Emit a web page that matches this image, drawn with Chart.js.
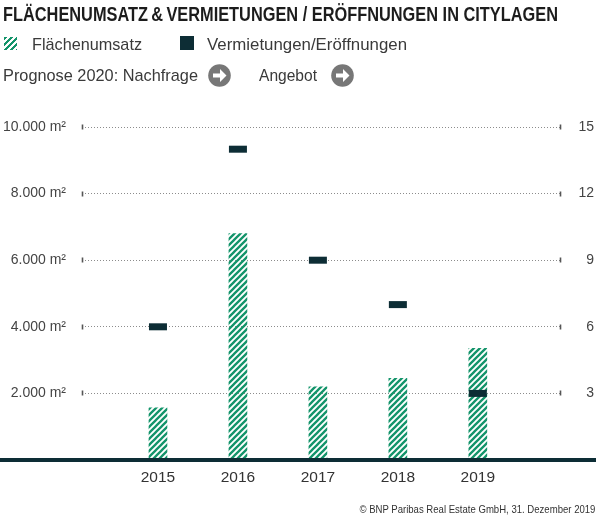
<!DOCTYPE html>
<html><head><meta charset="utf-8">
<script src="https://cdn.jsdelivr.net/npm/chart.js@4"></script>
<style>
html,body{margin:0;padding:0;background:#fff;}
#wrap{position:relative;width:600px;height:518px;overflow:hidden;font-family:"Liberation Sans",Arial,sans-serif;color:#3a3a3a;}
#c{position:absolute;left:0;top:0;}
.t{position:absolute;white-space:nowrap;line-height:1;transform-origin:0 0;}
.lg{font-size:17px;}
</style></head><body>
<div id="wrap">
<canvas id="c" width="600" height="518"></canvas>
<div class="t fit" data-w="555" id="title" style="left:3px;top:4.5px;font-size:19.5px;font-weight:bold;color:#1c1c1c;">FLÄCHENUMSATZ&thinsp;&amp;&thinsp;VERMIETUNGEN / ERÖFFNUNGEN IN CITYLAGEN</div>
<div id="hatchIcon" style="position:absolute;left:4px;top:37px;width:13px;height:13px;background:repeating-linear-gradient(135deg,#13946a 0 2.2px,#fff 2.2px 4.3px);"></div>
<div class="t lg fit" data-w="110" id="lg1" style="left:32px;top:35.5px;"></div>
<div style="position:absolute;left:180px;top:36px;width:14px;height:14px;background:#0d2d35;"></div>
<div class="t lg fit" data-w="200" id="lg2" style="left:207px;top:35.5px;"></div>
<div class="t lg fit" data-w="195" id="lg3" style="left:3px;top:66.5px;"></div>
<svg style="position:absolute;left:208px;top:64px;" width="23" height="23" viewBox="-11.5 -11.5 23 23"><circle r="11.3" fill="#777"/><path d="M-6.5,-2 H0.5 V-6.5 L7,0 L0.5,6.5 V2 H-6.5 Z" fill="#fff"/></svg>
<div class="t lg fit" data-w="58" id="lg4" style="left:259px;top:66.5px;"></div>
<svg style="position:absolute;left:331px;top:64px;" width="23" height="23" viewBox="-11.5 -11.5 23 23"><circle r="11.3" fill="#777"/><path d="M-6.5,-2 H0.5 V-6.5 L7,0 L0.5,6.5 V2 H-6.5 Z" fill="#fff"/></svg>
<div class="t fit" data-w="236" data-right="1" id="foot" style="right:5px;top:504px;font-size:11px;color:#333;">© BNP Paribas Real Estate GmbH, 31. Dezember 2019</div>
</div>
<script>
// ---- data ----
const years = [2015, 2016, 2017, 2018, 2019];
const flaechenumsatz = [1570, 6800, 2200, 2450, 3350];
const vermietungen = [6, 14, 9, 7, 3];
const seriesNames = ['Flächenumsatz', 'Vermietungen/Eröffnungen'];
const prognoseLabels = ['Prognose 2020: Nachfrage', 'Angebot'];
const leftTickMax = 10000, leftTickStep = 2000;
const rightTickMax = 15, rightTickStep = 3;

document.getElementById('lg1').textContent = seriesNames[0];
document.getElementById('lg2').textContent = seriesNames[1];
document.getElementById('lg3').textContent = prognoseLabels[0];
document.getElementById('lg4').textContent = prognoseLabels[1];

// condense text to the reference widths
document.querySelectorAll('.fit').forEach(el => {
  const w = el.getBoundingClientRect().width;
  const k = parseFloat(el.dataset.w) / w;
  if (el.dataset.right) el.style.transformOrigin = '100% 0';
  el.style.transform = 'scaleX(' + k.toFixed(4) + ')';
});

const GREEN = '#13946a';
const DARK = '#0d2d35';

function makeHatch(color){
  const s = 6, c = document.createElement('canvas');
  c.width = s; c.height = s;
  const g = c.getContext('2d');
  g.strokeStyle = color; g.lineWidth = 2.3;
  g.beginPath();
  g.moveTo(-s, s); g.lineTo(s, -s);
  g.moveTo(0, s); g.lineTo(s, 0);
  g.moveTo(0, 2*s); g.lineTo(2*s, 0);
  g.stroke();
  return c;
}
const ctx = document.getElementById('c').getContext('2d');
const hatch = ctx.createPattern(makeHatch(GREEN), 'repeat');

function fmtM2(v){ return String(v).replace(/\B(?=(\d{3})+(?!\d))/g, '.') + ' m²'; }

const decor = {
  id: 'decor',
  beforeDatasetsDraw(chart){
    const {ctx, chartArea: a, scales: {y}} = chart;
    ctx.save();
    ctx.strokeStyle = '#555'; ctx.lineWidth = 1.6;
    y.ticks.forEach(t => {
      if (t.value <= 0) return;
      const py = Math.round(y.getPixelForValue(t.value));
      [a.left + 0.5, a.right - 0.5].forEach(px => {
        ctx.beginPath(); ctx.moveTo(px, py - 2.5); ctx.lineTo(px, py + 2.5); ctx.stroke();
      });
    });
    ctx.restore();
  },
  afterDatasetsDraw(chart){
    const {ctx, scales: {y}} = chart;
    const py = y.getPixelForValue(0);
    ctx.save();
    ctx.strokeStyle = DARK; ctx.lineWidth = 4;
    ctx.beginPath(); ctx.moveTo(0, py); ctx.lineTo(596, py); ctx.stroke();
    ctx.restore();
  }
};

new Chart(ctx, {
  data: {
    datasets: [
      {
        type: 'line',
        label: seriesNames[1],
        data: years.map((x, i) => ({x, y: vermietungen[i]})),
        yAxisID: 'y1',
        showLine: false,
        pointStyle: 'line',
        pointRadius: 9,
        pointBorderWidth: 7,
        pointBorderColor: DARK,
        pointBackgroundColor: DARK,
        order: 1
      },
      {
        type: 'bar',
        label: seriesNames[0],
        data: years.map((x, i) => ({x, y: flaechenumsatz[i]})),
        yAxisID: 'y',
        backgroundColor: hatch,
        borderWidth: 0,
        barThickness: 18,
        order: 2
      }
    ]
  },
  options: {
    responsive: false,
    animation: false,
    events: [],
    layout: { padding: { top: 127, right: 6, left: 0, bottom: 0 } },
    plugins: { legend: { display: false }, tooltip: { enabled: false } },
    scales: {
      x: {
        type: 'linear',
        offset: false,
        min: 2014.05, max: 2020.04,
        grid: { display: false, drawTicks: false, offset: false },
        border: { display: false },
        afterBuildTicks: s => { s.ticks = years.map(v => ({value: v})); },
        afterFit: s => { s.height = 58; },
        ticks: {
          padding: 8,
          color: '#333',
          font: { family: '"Liberation Sans", Arial, sans-serif', size: 15.5 },
          callback: v => String(v)
        }
      },
      y: {
        position: 'left',
        min: 0, max: leftTickMax,
        afterFit: s => { s.width = 82; },
        grid: { color: '#8c8c8c', lineWidth: 1, drawTicks: false },
        border: { display: false, dash: [1, 2] },
        ticks: {
          stepSize: leftTickStep,
          padding: 16,
          color: '#444',
          font: { family: '"Liberation Sans", Arial, sans-serif', size: 14 },
          callback: v => v === 0 ? '' : fmtM2(v)
        }
      },
      y1: {
        position: 'right',
        min: 0, max: rightTickMax,
        afterFit: s => { s.width = 33; },
        grid: { display: false, drawTicks: false },
        border: { display: false },
        ticks: {
          stepSize: rightTickStep,
          crossAlign: 'far',
          color: '#444',
          font: { family: '"Liberation Sans", Arial, sans-serif', size: 14 },
          callback: v => v === 0 ? '' : String(v)
        }
      }
    }
  },
  plugins: [decor]
});
</script>
</body></html>
